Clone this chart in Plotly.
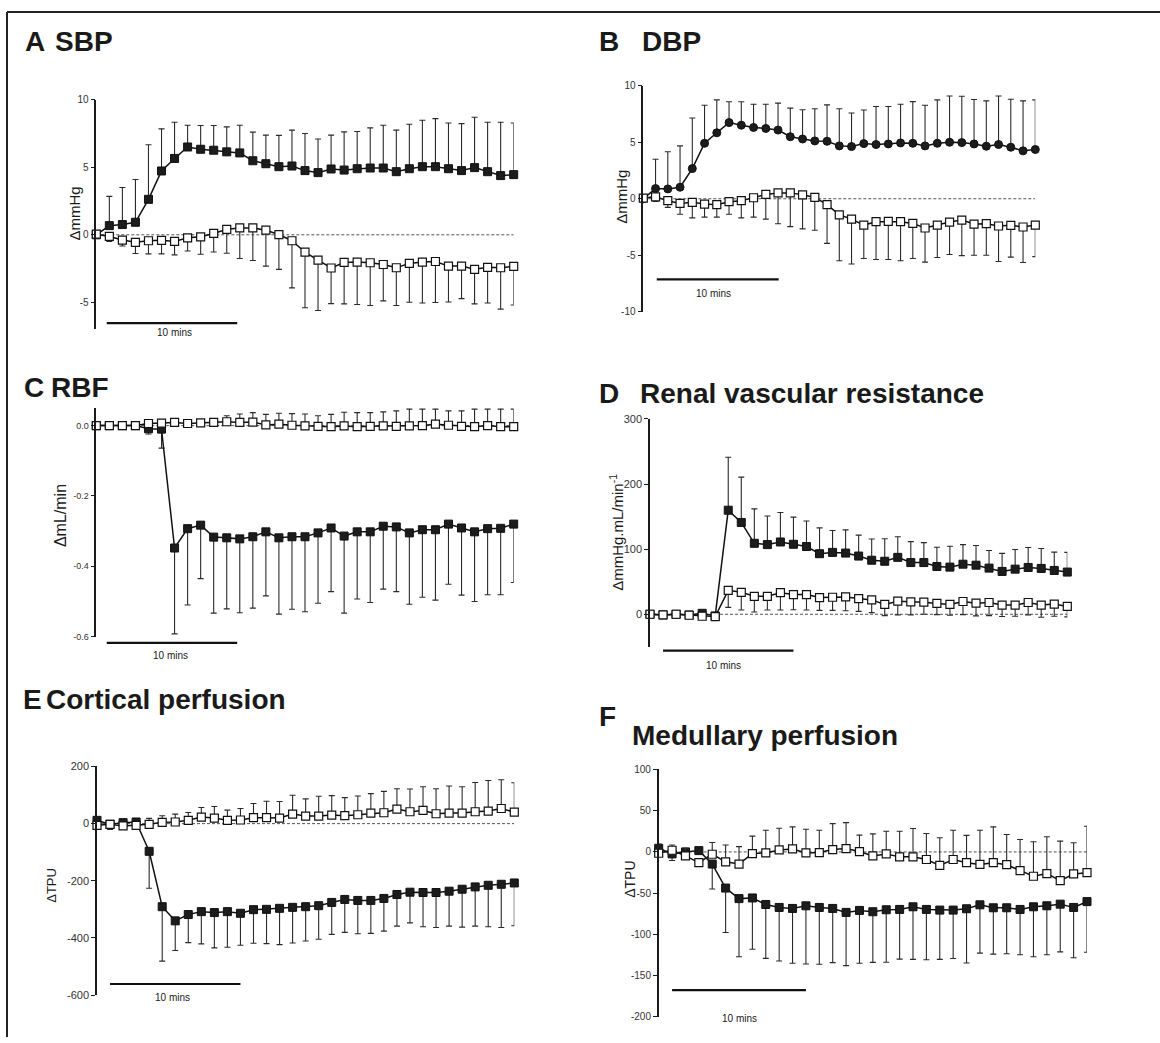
import plotly.graph_objects as go

W, H = 1160, 1043
minutes = list(range(33))

# ---------------- data ----------------
# A SBP
sbp_treat = [0, 0.68, 0.76, 0.93, 2.63, 4.73, 5.66, 6.51, 6.34, 6.27, 6.15, 6.07, 5.49, 5.27, 5.05, 5.10, 4.76,
             4.61, 4.88, 4.80, 4.90, 4.95, 4.95, 4.68, 4.90, 5.05, 5.05, 4.90, 4.76, 4.98, 4.68, 4.39, 4.46]
sbp_treat_err = [0.3, 2.17, 2.75, 3.17, 4.05, 3.12, 2.68, 1.61, 1.76, 1.83, 1.85, 2.05, 2.12, 2.12, 2.32, 2.66, 2.75,
                 2.49, 2.51, 2.83, 2.76, 2.98, 3.17, 3.08, 3.30, 3.44, 3.56, 3.39, 3.48, 3.73, 3.66, 3.95, 3.83]
sbp_veh = [0.05, -0.12, -0.39, -0.56, -0.44, -0.41, -0.49, -0.22, -0.15, 0.10, 0.41, 0.51, 0.51, 0.34, 0.02, -0.44,
           -1.29, -1.88, -2.46, -2.05, -2.02, -2.07, -2.20, -2.44, -2.12, -2.02, -1.98, -2.32, -2.32, -2.56, -2.41,
           -2.44, -2.34]
sbp_veh_err = [0.22, 0.37, 0.44, 0.83, 0.97, 1.00, 1.00, 0.98, 1.29, 1.37, 1.78, 2.27, 2.41, 2.66, 2.58, 3.49, 4.12,
               3.73, 2.64, 3.07, 3.15, 3.17, 2.70, 2.80, 2.88, 3.03, 3.04, 2.66, 2.41, 2.56, 2.64, 3.07, 2.86]

# B DBP
dbp_treat = [0, 0.90, 0.87, 1.02, 2.67, 4.91, 5.84, 6.74, 6.51, 6.31, 6.22, 6.08, 5.49, 5.29, 5.12, 5.09, 4.68,
             4.62, 4.88, 4.80, 4.85, 4.94, 4.91, 4.68, 4.91, 5.00, 4.97, 4.85, 4.65, 4.80, 4.56, 4.24, 4.36]
dbp_treat_err = [0.3, 2.59, 3.29, 3.66, 4.48, 3.37, 2.91, 1.84, 2.07, 2.06, 2.15, 2.38, 2.53, 2.59, 2.85, 3.22, 3.29,
                 2.97, 2.97, 3.37, 3.32, 3.43, 3.69, 3.60, 3.84, 4.10, 4.10, 3.93, 4.01, 4.30, 4.25, 4.42, 4.39]
dbp_veh = [0.06, 0.17, -0.17, -0.41, -0.32, -0.47, -0.52, -0.26, -0.17, 0.09, 0.38, 0.52, 0.52, 0.35, 0.12, -0.52,
           -1.42, -1.80, -2.33, -2.03, -2.01, -2.03, -2.18, -2.59, -2.33, -2.06, -1.89, -2.24, -2.21, -2.41, -2.35,
           -2.50, -2.33]
dbp_veh_err = [0.26, 0.40, 0.59, 0.96, 1.37, 1.16, 1.11, 1.11, 1.52, 1.72, 2.18, 2.73, 2.99, 3.02, 2.91, 3.43, 4.07,
               3.98, 2.96, 3.35, 3.37, 3.46, 3.11, 3.02, 2.87, 2.88, 3.14, 2.76, 2.79, 3.14, 2.82, 3.14, 2.79]

# C RBF
rbf_treat = [0, 0, 0, 0, -0.009, -0.010, -0.348, -0.293, -0.283, -0.317, -0.319, -0.322, -0.316, -0.302, -0.319,
             -0.316, -0.316, -0.305, -0.291, -0.314, -0.302, -0.302, -0.286, -0.288, -0.305, -0.296, -0.296, -0.280,
             -0.291, -0.302, -0.293, -0.292, -0.280]
rbf_treat_err = [0.002, 0.002, 0.006, 0.002, 0.015, 0.054, 0.244, 0.217, 0.152, 0.216, 0.202, 0.210, 0.203, 0.182,
                 0.217, 0.206, 0.213, 0.200, 0.181, 0.219, 0.191, 0.201, 0.179, 0.184, 0.203, 0.192, 0.200, 0.171,
                 0.191, 0.198, 0.188, 0.189, 0.166]
rbf_veh = [0, 0, 0, 0, 0.006, 0.007, 0.009, 0.006, 0.008, 0.009, 0.011, 0.009, 0.010, 0.002, 0.004, 0.001, -0.001,
           -0.002, -0.003, -0.001, -0.003, -0.002, -0.001, -0.002, -0.001, 0, 0.004, 0.001, -0.002, -0.003, 0,
           -0.003, -0.003]
rbf_veh_err = [0.002, 0.002, 0.002, 0.002, 0.005, 0.009, 0.010, 0.005, 0.006, 0.008, 0.017, 0.024, 0.027, 0.030,
               0.031, 0.033, 0.034, 0.030, 0.035, 0.039, 0.040, 0.039, 0.040, 0.044, 0.048, 0.047, 0.043, 0.041,
               0.044, 0.050, 0.047, 0.050, 0.050]

# D Renal vascular resistance
rvr_treat = [0, -1, 0, -1, 1.5, -2.5, 159.8, 141, 109, 107, 111, 107.5, 104, 93, 95, 94, 89.4, 83, 81.4, 87.4,
             79.4, 79.4, 73.4, 72.4, 76.9, 75.4, 70.9, 65.8, 69.3, 71.9, 70.4, 67.3, 64.8]
rvr_treat_err = [0, 0, 0, 0, 1, 1, 81.2, 69.6, 52.8, 43.8, 45.3, 41.7, 39.2, 39.7, 33.6, 35.6, 32.2, 32.6, 34.6,
                 31.7, 32.2, 30.6, 29.6, 32.1, 30.1, 30.1, 27.1, 27.7, 30.2, 30.6, 30.6, 28.2, 30.2]
rvr_veh = [0, -1, 0, -1.5, -3, -3.5, 36.7, 33.7, 27.6, 27.6, 33.2, 30.2, 30.2, 25.6, 26.1, 26.6, 24.1, 22.1, 15.1,
           20.1, 19.1, 18.6, 16.6, 15.1, 19.6, 17.1, 18.1, 14.1, 14.1, 18.1, 14.1, 15.6, 12.1]
rvr_veh_err = [0, 0, 0, 0, 0, 0, 26.1, 27.2, 24.1, 21.1, 26.7, 23.2, 23.7, 19.6, 20.1, 21.1, 19.6, 19.6, 17.1, 21.1,
               20.1, 18.6, 17.1, 16.6, 20.1, 19.6, 20.1, 17.6, 17.1, 19.1, 18.6, 18.6, 16.1]

# E Cortical perfusion
cort_treat = [11.5, -2.3, 3.5, 5.8, -96.8, -290.5, -340, -318, -307.8, -311, -307.8, -313.5, -300.9, -299.7,
              -296.2, -292.8, -290.5, -287, -275.5, -265.1, -268.6, -268.6, -261.7, -247.8, -239.8, -240.9, -240.9,
              -236.3, -229.4, -221.3, -215.6, -212.1, -207.5]
cort_treat_err = [5, 18, 5, 5, 129.2, 190.2, 103.8, 98, 112.9, 123.6, 124.5, 111.8, 117.5, 119.9, 126.8, 124.5,
                  119.9, 117.6, 111.8, 115.3, 116.4, 115.2, 114.1, 110.7, 107.2, 119.9, 122.2, 122.2, 132.6, 137.2,
                  145.2, 151, 149.8]
cort_veh = [-5.8, -2.3, -8, -5.8, -2.3, 4.6, 5.8, 11.5, 23, 19.6, 11.5, 12.7, 20.7, 20.7, 19.6, 33.4, 26.5, 26.5,
            30, 27.7, 31.1, 36.9, 38, 50.7, 41.5, 46.1, 34.6, 36.9, 36.9, 41.5, 43.8, 53, 40.3]
cort_veh_err = [8, 0, 5, 5, 20.7, 23.1, 27.6, 27.7, 33.5, 40.4, 35.8, 40.3, 49.6, 57.7, 57.6, 65.7, 60, 69.2, 68,
                63.3, 65.7, 68, 75, 71.5, 79.5, 83, 87.6, 94.5, 92.2, 102.6, 107.2, 100.3, 102.7]

# F Medullary perfusion
med_treat = [4.4, -2.4, 0, 1.6, -14.7, -43.8, -56.6, -55.8, -63.7, -67.3, -68.5, -65.3, -67.3, -68.5, -73.3, -70.9,
             -72.5, -70.1, -69.7, -66.5, -69.7, -70.5, -70.5, -68.9, -64.1, -67.7, -67.7, -69.7, -66.5, -65.3,
             -63.3, -67.3, -60.2]
med_treat_err = [8, 8, 5, 3, 30.3, 53.8, 70.5, 62.2, 65.3, 64.9, 66.5, 70.5, 68.9, 65.7, 64.5, 64.1, 61.4, 63.7,
                 60.2, 63.7, 61, 59.8, 58.6, 65.7, 58.6, 56.2, 55.8, 55, 60.6, 59.4, 57.8, 61, 61.4]
med_veh = [-1.6, 2, -4.8, -13.1, -2.8, -12, -14.7, -2, -1.2, 2.4, 3.6, -1.2, -0.8, 2.8, 4, 0.4, -4.8, -2.4, -6, -6,
           -9.2, -16.3, -9.2, -13.1, -15.1, -13.1, -15.5, -22.7, -29.5, -26.3, -34.7, -26.7, -25.1]
med_veh_err = [11.2, 6.4, 9.2, 5, 14.3, 20.3, 21.1, 21.1, 27.5, 26.3, 26.7, 28.7, 27.1, 31.5, 31.5, 19.9, 26.7,
               27.5, 31.1, 34.3, 31.5, 33.5, 35.5, 33.1, 41.4, 43.4, 36.7, 37.8, 41.8, 44.6, 47.8, 37.8, 56.2]

# tick labels
ticks_a = [-5, 0, 5, 10]
ticktext_a = ["-5", "0", "5", "10"]
ticks_b = [-10, -5, 0, 5, 10]
ticktext_b = ["-10", "-5", "0", "5", "10"]
ticks_c = [-0.6, -0.4, -0.2, 0.0]
ticktext_c = ["-0.6", "-0.4", "-0.2", "0.0"]
ticks_d = [0, 100, 200, 300]
ticktext_d = ["0", "100", "200", "300"]
ticks_e = [-600, -400, -200, 0, 200]
ticktext_e = ["-600", "-400", "-200", "0", "200"]
ticks_f = [-200, -150, -100, -50, 0, 50, 100]
ticktext_f = ["-200", "-150", "-100", "-50", "0", "50", "100"]

panel_letters = ["A", "B", "C", "D", "E", "F"]
panel_titles = ["SBP", "DBP", "RBF", "Renal vascular resistance", "Cortical perfusion", "Medullary perfusion"]
y_titles = ["ΔmmHg", "ΔmmHg", "ΔmL/min", "ΔmmHg.mL/min<sup>-1</sup>", "ΔTPU", "ΔTPU"]
scale_label = "10 mins"

# ---------------- layout geometry (pixels) ----------------
panels = [
    dict(treat=sbp_treat, terr=sbp_treat_err, tdir="up", veh=sbp_veh, verr=sbp_veh_err, vdir="down",
         tsym="square", yr=[-7, 10], tv=ticks_a, tt=ticktext_a, tfs=10,
         px=(96.3, 513.7), py=(95, 327), bar=(0.8, 10.8, 0.027), lab=(6.0, -0.016),
         ytl=(75, 210, 15), title=(23, 53, 36), ltitle=None),
    dict(treat=dbp_treat, terr=dbp_treat_err, tdir="up", veh=dbp_veh, verr=dbp_veh_err, vdir="down",
         tsym="circle", yr=[-10, 10], tv=ticks_b, tt=ticktext_b, tfs=10,
         px=(643.3, 1035.3), py=(80.7, 309.3), bar=(1.1, 11.05, 0.143), lab=(5.7, 0.080),
         ytl=(622, 193, 15), title=(597, 640, 36), ltitle=None),
    dict(treat=rbf_treat, terr=rbf_treat_err, tdir="down", veh=rbf_veh, verr=rbf_veh_err, vdir="up",
         tsym="square", yr=[-0.6, 0.05], tv=ticks_c, tt=ticktext_c, tfs=9,
         px=(96.3, 513.7), py=(406.7, 638), bar=(0.8, 10.8, -0.027), lab=(5.7, -0.081),
         ytl=(60, 516, 16), title=(22, 49, 386), ltitle=None),
    dict(treat=rvr_treat, terr=rvr_treat_err, tdir="up", veh=rvr_veh, verr=rvr_veh_err, vdir="down",
         tsym="square", yr=[-50, 300], tv=ticks_d, tt=ticktext_d, tfs=11,
         px=(650, 1067.3), py=(417.7, 648.3), bar=(1.0, 11.0, -0.017), lab=(5.6, -0.080),
         ytl=(617, 533, 15), title=(597, 638, 392), ltitle=None),
    dict(treat=cort_treat, terr=cort_treat_err, tdir="down", veh=cort_veh, verr=cort_veh_err, vdir="up",
         tsym="square", yr=[-600, 200], tv=ticks_e, tt=ticktext_e, tfs=11,
         px=(97, 514.3), py=(769.3, 1000.7), bar=(1.0, 11.0, 0.049), lab=(5.8, -0.011),
         ytl=(52, 890, 13), title=(21, 44, 702), ltitle=None),
    dict(treat=med_treat, terr=med_treat_err, tdir="down", veh=med_veh, verr=med_veh_err, vdir="up",
         tsym="square", yr=[-200, 100], tv=ticks_f, tt=ticktext_f, tfs=10,
         px=(658.7, 1087), py=(772.3, 1022.7), bar=(1.0, 11.0, 0.108), lab=(6.0, -0.006),
         ytl=(630, 884, 14), title=(597, 630, 738), ltitle=719),
]

FONT = "Liberation Sans, Arial, sans-serif"
INK = "#1a1a1a"
TITLE_SIZE = 28

fig = go.Figure()
layout = dict(width=W, height=H, autosize=False, margin=dict(l=0, r=0, t=0, b=0), paper_bgcolor="white",
              plot_bgcolor="white", showlegend=False, font=dict(family=FONT, color=INK))
shapes, annos = [], []

def err_kw(err, direction):
    zeros = [0] * len(err)
    up = err if direction == "up" else zeros
    dn = err if direction == "down" else zeros
    return dict(type="data", symmetric=False, array=up, arrayminus=dn, color="#2a2a2a",
                thickness=1.1, width=3)

for i, p in enumerate(panels):
    n = i + 1
    xa = "x" if n == 1 else f"x{n}"
    ya = "y" if n == 1 else f"y{n}"
    xkey = "xaxis" if n == 1 else f"xaxis{n}"
    ykey = "yaxis" if n == 1 else f"yaxis{n}"
    layout[xkey] = dict(domain=[p["px"][0] / W, p["px"][1] / W], range=[0, 32], anchor=ya,
                        showline=False, showticklabels=False, showgrid=False, zeroline=False, ticks="")
    layout[ykey] = dict(domain=[1 - p["py"][1] / H, 1 - p["py"][0] / H], range=p["yr"], anchor=xa,
                        showline=True, linecolor=INK, linewidth=1.5, ticks="outside", ticklen=4,
                        tickwidth=1.3, tickcolor=INK, tickvals=p["tv"], ticktext=p["tt"],
                        tickfont=dict(size=p["tfs"], color="#333", family=FONT),
                        showgrid=False, zeroline=False)
    # treated series (filled)
    fig.add_trace(go.Scatter(
        x=minutes, y=p["treat"], mode="lines+markers", xaxis=xa, yaxis=ya, cliponaxis=False,
        line=dict(color="#111", width=1.5),
        marker=dict(symbol=p["tsym"], size=8, color="#1c1c1c", line=dict(color="#111", width=1)),
        error_y=err_kw(p["terr"], p["tdir"])))
    # vehicle series (open)
    fig.add_trace(go.Scatter(
        x=minutes, y=p["veh"], mode="lines+markers", xaxis=xa, yaxis=ya, cliponaxis=False,
        line=dict(color="#111", width=1.5),
        marker=dict(symbol="square", size=8, color="white", line=dict(color="#111", width=1.2)),
        error_y=err_kw(p["verr"], p["vdir"])))
    # dashed zero line
    shapes.append(dict(type="line", xref=xa, yref=ya, x0=0, x1=32, y0=0, y1=0, layer="below",
                       line=dict(color="#555", width=1, dash="3px,2px")))
    # 10-minute scale bar
    b0, b1, by = p["bar"]
    shapes.append(dict(type="line", xref=xa, yref=f"{ya} domain", x0=b0, x1=b1, y0=by, y1=by,
                       line=dict(color="#111", width=2.2)))
    annos.append(dict(xref=xa, yref=f"{ya} domain", x=p["lab"][0], y=p["lab"][1], text=scale_label,
                      showarrow=False, font=dict(size=10, color=INK), xanchor="center", yanchor="middle"))
    # y-axis title
    tx, ty, ts = p["ytl"]
    annos.append(dict(xref="paper", yref="paper", x=tx / W, y=1 - ty / H, text=y_titles[i], textangle=-90,
                      showarrow=False, font=dict(size=ts, color=INK), xanchor="center", yanchor="middle"))
    # panel titles
    lx, txx, tyy = p["title"]
    ly = p["ltitle"] if p["ltitle"] is not None else tyy
    annos.append(dict(xref="paper", yref="paper", x=lx / W, y=1 - ly / H, text=f"<b>{panel_letters[i]}</b>",
                      showarrow=False, font=dict(size=TITLE_SIZE, color=INK), xanchor="left", yanchor="middle"))
    annos.append(dict(xref="paper", yref="paper", x=txx / W, y=1 - tyy / H, text=f"<b>{panel_titles[i]}</b>",
                      showarrow=False, font=dict(size=TITLE_SIZE, color=INK), xanchor="left", yanchor="middle"))

# outer frame (top and left edges)
shapes.append(dict(type="line", xref="paper", yref="paper", x0=7 / W, x1=1, y0=1 - 6 / H, y1=1 - 6 / H,
                   line=dict(color="#222", width=2)))
shapes.append(dict(type="line", xref="paper", yref="paper", x0=7 / W, x1=7 / W, y0=1 - 6 / H, y1=0,
                   line=dict(color="#222", width=2)))

layout["shapes"] = shapes
layout["annotations"] = annos
fig.update_layout(**layout)

# place the graph at the page origin (remove default body margin)
page_fix = ("document.body.style.margin='0';document.body.style.padding='0';"
            "var d=document.getElementById('{plot_id}');d.style.position='absolute';"
            "d.style.left='0px';d.style.top='0px';")
fig.write_html("out.html", post_script=page_fix, config={"displayModeBar": False})
